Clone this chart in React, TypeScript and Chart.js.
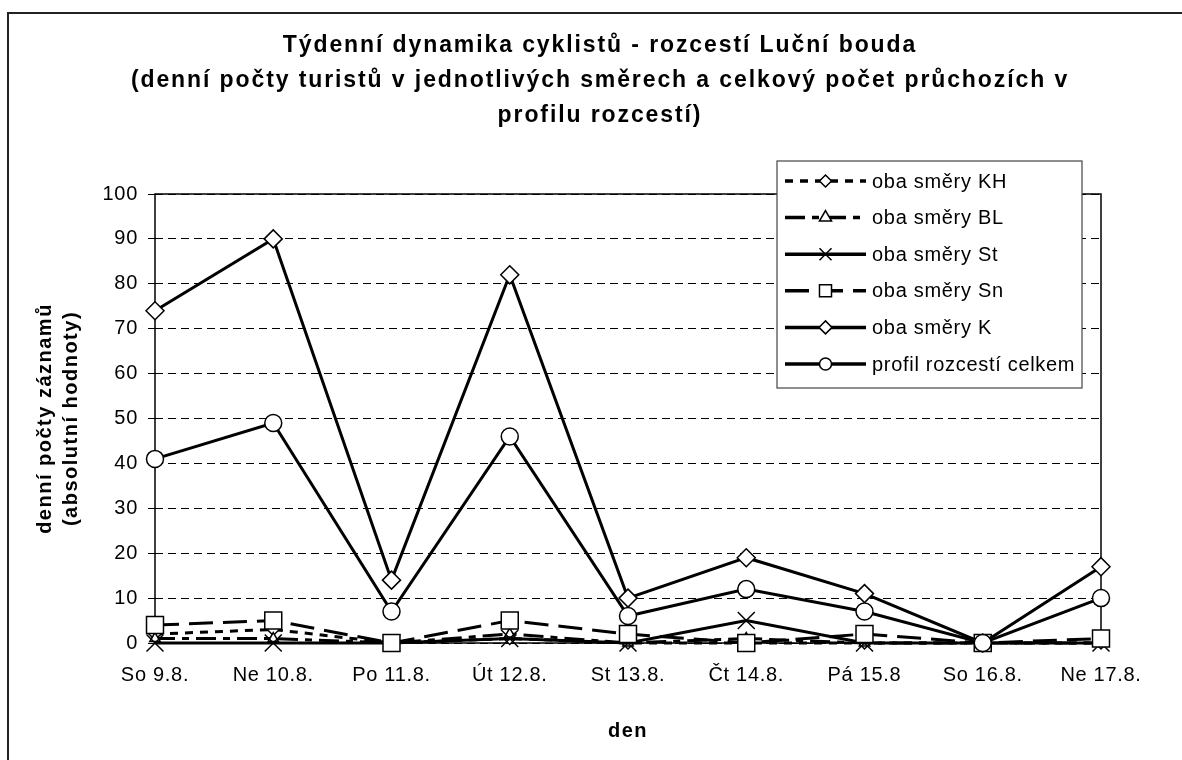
import React, { useEffect, useRef } from "react";
import { Chart, registerables } from "chart.js";

Chart.register(...registerables);

// ---- data ----
const days = ["So 9.8.", "Ne 10.8.", "Po 11.8.", "Út 12.8.", "St 13.8.", "Čt 14.8.", "Pá 15.8", "So 16.8.", "Ne 17.8."];
const obaKH = [2, 3, 0, 1, 0, 0, 0, 0, 0];
const obaBL = [1, 1, 0, 2, 0, 1, 0, 0, 0];
const obaSt = [0, 0, 0, 1, 0, 5, 0, 0, 0];
const obaSn = [4, 5, 0, 5, 2, 0, 2, 0, 1];
const obaK = [74, 90, 14, 82, 10, 19, 11, 0, 17];
const celkem = [41, 49, 7, 46, 6, 12, 7, 0, 10];

const seriesLabels = ["oba směry KH", "oba směry BL", "oba směry St", "oba směry Sn", "oba směry K", "profil rozcestí celkem"];
const titleLines = [
  "Týdenní dynamika cyklistů - rozcestí Luční bouda",
  "(denní počty turistů v jednotlivých směrech a celkový počet průchozích v",
  "profilu rozcestí)",
];
const yTitleLines = ["denní počty záznamů", "(absolutní hodnoty)"];
const xTitle = "den";
const yMin = 0;
const yMax = 100;
const yStep = 10;

const FONT = '"Liberation Sans", Arial, Helvetica, sans-serif';

type Marker = { style: string; r: number; lr: number; dash: number[] };
const styles: Marker[] = [
  { style: "rectRot", r: 6, lr: 6, dash: [8, 7] },
  { style: "triangle", r: 6, lr: 7, dash: [20, 7, 7, 7] },
  { style: "crossRot", r: 12, lr: 8.5, dash: [] },
  { style: "rect", r: 12, lr: 8.5, dash: [24, 10] },
  { style: "rectRot", r: 9, lr: 6.5, dash: [] },
  { style: "circle", r: 8.5, lr: 6, dash: [] },
];

function drawMarker(ctx: CanvasRenderingContext2D, style: string, x: number, y: number, r: number) {
  ctx.save();
  ctx.setLineDash([]);
  ctx.fillStyle = "#fff";
  ctx.strokeStyle = "#000";
  ctx.lineWidth = 1.5;
  ctx.beginPath();
  if (style === "circle") {
    ctx.arc(x, y, r, 0, Math.PI * 2);
  } else if (style === "rectRot") {
    ctx.moveTo(x, y - r);
    ctx.lineTo(x + r, y);
    ctx.lineTo(x, y + r);
    ctx.lineTo(x - r, y);
    ctx.closePath();
  } else if (style === "rect") {
    const s = r * Math.SQRT1_2;
    ctx.rect(x - s, y - s, 2 * s, 2 * s);
  } else if (style === "triangle") {
    let a = 0;
    ctx.moveTo(x + Math.sin(a) * r, y - Math.cos(a) * r);
    a += (2 * Math.PI) / 3;
    ctx.lineTo(x + Math.sin(a) * r, y - Math.cos(a) * r);
    a += (2 * Math.PI) / 3;
    ctx.lineTo(x + Math.sin(a) * r, y - Math.cos(a) * r);
    ctx.closePath();
  } else if (style === "crossRot") {
    const o = r * Math.SQRT1_2;
    ctx.moveTo(x - o, y - o);
    ctx.lineTo(x + o, y + o);
    ctx.moveTo(x - o, y + o);
    ctx.lineTo(x + o, y - o);
    ctx.stroke();
    ctx.restore();
    return;
  }
  ctx.fill();
  ctx.stroke();
  ctx.restore();
}

const decorPlugin = {
  id: "decor",
  beforeDraw(chart: any) {
    const ctx: CanvasRenderingContext2D = chart.ctx;
    ctx.save();
    ctx.fillStyle = "#fff";
    ctx.fillRect(0, 0, chart.width, chart.height);
    // outer frame
    ctx.strokeStyle = "#222";
    ctx.lineWidth = 2;
    ctx.strokeRect(8, 13, chart.width + 20, chart.height + 20);
    // title
    ctx.fillStyle = "#000";
    ctx.textAlign = "center";
    ctx.textBaseline = "middle";
    ctx.font = `bold 23px ${FONT}`;
    (ctx as any).letterSpacing = "1.9px";
    titleLines.forEach((t, i) => ctx.fillText(t, 600, 46 + i * 35));
    // axis titles
    ctx.font = `bold 20px ${FONT}`;
    (ctx as any).letterSpacing = "1.5px";
    const a = chart.chartArea;
    ctx.fillText(xTitle, (a.left + a.right) / 2, 731);
    ctx.save();
    ctx.translate(0, (a.top + a.bottom) / 2);
    ctx.rotate(-Math.PI / 2);
    ctx.textBaseline = "alphabetic";
    ctx.fillText(yTitleLines[0], 0, 51);
    ctx.fillText(yTitleLines[1], 0, 77);
    ctx.restore();
    ctx.restore();
    (ctx as any).letterSpacing = "0.7px";
  },
  beforeDatasetsDraw(chart: any) {
    const ctx: CanvasRenderingContext2D = chart.ctx;
    const a = chart.chartArea;
    ctx.save();
    ctx.setLineDash([]);
    ctx.strokeStyle = "#000";
    ctx.lineWidth = 1.5;
    ctx.strokeRect(a.left, a.top, a.right - a.left, a.bottom - a.top);
    ctx.restore();
  },
  afterDraw(chart: any) {
    const ctx: CanvasRenderingContext2D = chart.ctx;
    ctx.save();
    const bx = 777, by = 161, bw = 305, bh = 227;
    ctx.fillStyle = "#fff";
    ctx.fillRect(bx, by, bw, bh);
    ctx.strokeStyle = "#444";
    ctx.lineWidth = 1.2;
    ctx.setLineDash([]);
    ctx.strokeRect(bx, by, bw, bh);
    ctx.font = `20px ${FONT}`;
    (ctx as any).letterSpacing = "0.7px";
    ctx.textAlign = "left";
    ctx.textBaseline = "middle";
    chart.data.datasets.forEach((ds: any, i: number) => {
      const y = 181 + i * 36.6;
      const st = styles[i];
      ctx.save();
      ctx.strokeStyle = "#000";
      ctx.lineWidth = 3.5;
      ctx.setLineDash(st.dash);
      ctx.beginPath();
      ctx.moveTo(785, y);
      ctx.lineTo(866, y);
      ctx.stroke();
      ctx.restore();
      drawMarker(ctx, st.style, 825.5, y, st.lr);
      ctx.fillStyle = "#000";
      ctx.fillText(ds.label, 872, y + 1);
    });
    ctx.restore();
  },
};

export default function App() {
  const ref = useRef<HTMLCanvasElement | null>(null);
  useEffect(() => {
    if (!ref.current) return;
    const seriesData = [obaKH, obaBL, obaSt, obaSn, obaK, celkem];
    const n = seriesData.length;
    const datasets = seriesData.map((d, i) => ({
      label: seriesLabels[i],
      data: d,
      borderColor: "#000",
      backgroundColor: "#fff",
      borderWidth: 3,
      borderDash: styles[i].dash,
      pointStyle: styles[i].style,
      pointRadius: styles[i].r,
      pointHoverRadius: styles[i].r,
      pointBackgroundColor: "#fff",
      pointBorderColor: "#000",
      pointBorderWidth: 1.5,
      tension: 0,
      fill: false,
      clip: false,
      order: n - 1 - i,
    }));
    const chart = new Chart(ref.current, {
      type: "line",
      data: { labels: days, datasets },
      plugins: [decorPlugin],
      options: {
        responsive: false,
        animation: false,
        devicePixelRatio: 1,
        layout: { padding: { left: 0, top: 194, right: 81, bottom: 67 } },
        plugins: {
          legend: { display: false },
          title: { display: false },
          tooltip: { enabled: false },
        },
        events: [],
        scales: {
          x: {
            type: "category",
            offset: false,
            grid: { display: false, drawTicks: false },
            border: { display: false },
            ticks: {
              font: { family: FONT, size: 20 },
              color: "#000",
              padding: 20,
              maxRotation: 0,
              autoSkip: false,
            },
            afterFit(s: any) {
              s.height = 50;
            },
          },
          y: {
            min: yMin,
            max: yMax,
            grid: {
              color: "#000",
              lineWidth: 1,
              tickLength: 7,
              tickColor: "#000",
              tickBorderDash: [],
            },
            border: { display: false, dash: [8, 5] },
            ticks: {
              stepSize: yStep,
              font: { family: FONT, size: 20 },
              color: "#000",
              padding: 10,
            },
            afterFit(s: any) {
              s.width = 155;
            },
          },
        },
      },
    });
    return () => chart.destroy();
  }, []);
  return (
    <div style={{ position: "fixed", left: 0, top: 0, width: 1182, height: 760, background: "#fff" }}>
      <canvas ref={ref} width={1182} height={760} style={{ display: "block" }} />
    </div>
  );
}
